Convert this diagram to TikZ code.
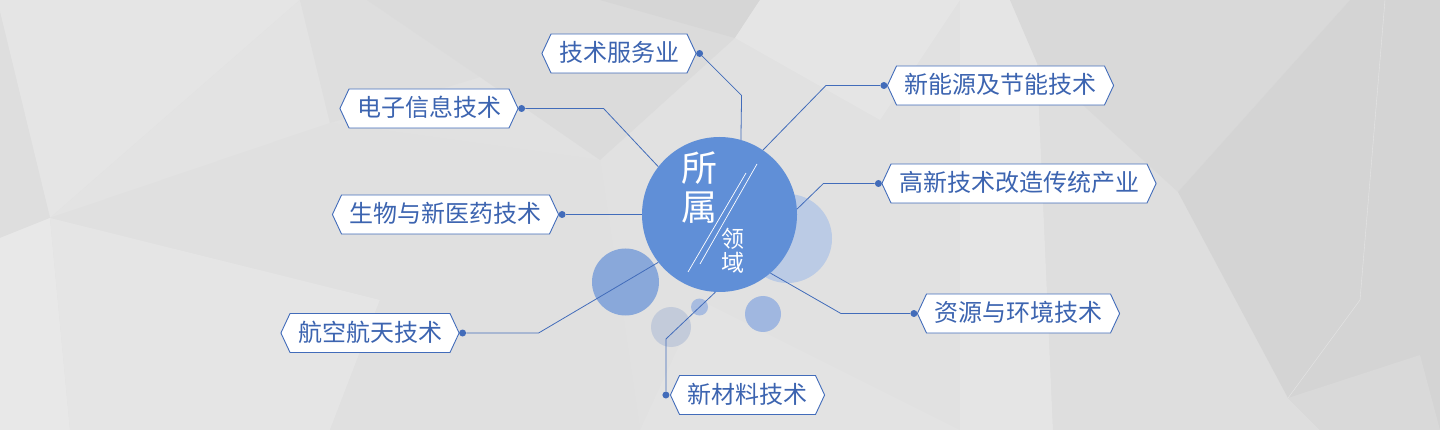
\documentclass[tikz,border=0pt]{standalone}
\usepackage{fontspec}
\setmainfont{Noto Sans CJK SC}
\usetikzlibrary{shapes.symbols}

\definecolor{lineblue}{RGB}{66,108,186}
\definecolor{textblue}{RGB}{60,100,176}
\definecolor{hubblue}{RGB}{96,143,215}
\definecolor{bgbase}{RGB}{225,225,225}

\tikzset{
  field/.style={shape=signal, signal to=west and east, signal pointer angle=130,
    draw=lineblue, line width=0.9pt, fill=white, text=textblue,
    font=\fontsize{24}{24}\selectfont, text height=20pt, text depth=4pt,
    inner xsep=8pt, inner ysep=7.5pt},
  pin/.style={circle, fill=lineblue, inner sep=0pt, minimum size=7pt},
  link/.style={draw=lineblue, line width=0.8pt},
  bubble/.style={circle, inner sep=0pt, draw=none},
  shade/.style={fill=black!#1}
}

\begin{document}
\begin{tikzpicture}[x=1pt, y=-1pt]
    \useasboundingbox (0,0) rectangle (1440,430);
    % background facets
    \fill[bgbase] (0,0) rectangle (1440,430);
    \fill[shade=10] (0,0) -- (300,0) -- (50,218) -- (0,12) -- cycle;
    \fill[shade=13] (0,12) -- (50,218) -- (0,238) -- cycle;
    \fill[shade=9] (0,238) -- (50,218) -- (70,430) -- (0,430) -- cycle;
    \fill[shade=11] (50,218) -- (330,123) -- (300,0) -- cycle;
    \fill[shade=13] (300,0) -- (367,0) -- (480,77) -- (330,123) -- cycle;
    \fill[shade=14] (367,0) -- (690,0) -- (735,38) -- (600,160) -- (480,77) -- cycle;
    \fill[shade=16] (600,0) -- (760,0) -- (735,38) -- cycle;
    \fill[shade=10] (735,38) -- (760,0) -- (960,0) -- (880,120) -- cycle;
    \fill[shade=12] (50,218) -- (330,123) -- (600,160) -- (380,300) -- cycle;
    \fill[shade=10] (70,430) -- (50,218) -- (380,300) -- (330,430) -- cycle;
    \fill[shade=12] (380,300) -- (600,160) -- (640,430) -- (330,430) -- cycle;
    \fill[shade=11] (640,430) -- (700,300) -- (960,430) -- cycle;
    \fill[shade=10] (960,0) -- (1010,0) -- (1037,63) -- (1053,430) -- (960,430) -- cycle;
    \fill[shade=13] (1037,63) -- (1178,192) -- (1288,398) -- (1320,430) -- (1053,430) -- cycle;
    \fill[shade=15] (1010,0) -- (1350,0) -- (1178,192) -- (1037,63) -- cycle;
    \fill[shade=17] (1350,0) -- (1440,0) -- (1440,430) -- (1320,430) -- (1288,398) -- (1178,192) -- cycle;
    \fill[shade=15] (1288,398) -- (1420,355) -- (1440,430) -- (1320,430) -- cycle;
    \draw[white, opacity=0.4] (1385,0) -- (1360,300) -- (1288,398);
    % bubbles behind the hub
    \node[bubble, fill={rgb,255:red,187;green,203;blue,229}, minimum size=89pt] (b1) at (787.5,238.5) {};
    \node[bubble, fill={rgb,255:red,137;green,168;blue,218}, minimum size=67pt] (b2) at (625.5,282) {};
    \node[bubble, fill={rgb,255:red,195;green,203;blue,218}, minimum size=40pt] (b3) at (671,327) {};
    \node[bubble, fill={rgb,255:red,168;green,188;blue,224}, minimum size=17pt] (b4) at (699.5,307) {};
    \node[bubble, fill={rgb,255:red,160;green,183;blue,224}, minimum size=36pt] (b5) at (763,314) {};
    % hub
    \node[bubble, fill=hubblue, minimum size=155pt] (hub) at (719.5,214.5) {};
    \node[text=white, font=\fontsize{36}{39}\selectfont, align=center, inner sep=0pt] (top) at (699,188) {所\\属};
    \node[text=white, font=\fontsize{23}{24}\selectfont, align=center, inner sep=0pt] (bottom) at (733,251) {领\\域};
    \draw[white, line width=0.7pt] (688,272) -- (746,173);
    \draw[white, line width=0.7pt] (700,264) -- (757,164);
    % fields
    \node[field] (f1) at (619,53.5) {技术服务业};
    \node[field] (f2) at (429,108.5) {电子信息技术};
    \node[field] (f3) at (445.5,214.5) {生物与新医药技术};
    \node[field] (f4) at (370,333) {航空航天技术};
    \node[field] (f5) at (747.5,395) {新材料技术};
    \node[field] (f6) at (1018.5,313.5) {资源与环境技术};
    \node[field] (f7) at (1019,183.5) {高新技术改造传统产业};
    \node[field] (f8) at (1000.5,85.5) {新能源及节能技术};
    % pins
    \node[pin] (d1) at ([xshift=3pt]f1.east) {};
    \node[pin] (d2) at ([xshift=3pt]f2.east) {};
    \node[pin] (d3) at ([xshift=3pt]f3.east) {};
    \node[pin] (d4) at ([xshift=3pt]f4.east) {};
    \node[pin] (d5) at ([xshift=-4pt]f5.west) {};
    \node[pin] (d6) at ([xshift=-3pt]f6.west) {};
    \node[pin] (d7) at ([xshift=-3pt]f7.west) {};
    \node[pin] (d8) at ([xshift=-3pt]f8.west) {};
    % links to the hub
    \draw[link] (d1) -- ++(42,42) -- (hub.74);
    \draw[link] (d2) -- ++(82,0) -- (hub.142);
    \draw[link] (d3) -- (hub.180);
    \draw[link] (d4) -- ++(76,0) -- (hub.218);
    \draw[link] (d5) -- ++(0,-56) -- (hub.267);
    \draw[link] (d6) -- ++(-73,0) -- (hub.311);
    \draw[link] (d7) -- ++(-55,0) -- (hub.4);
    \draw[link] (d8) -- ++(-58,0) -- (hub.56);
\end{tikzpicture}
\end{document}
